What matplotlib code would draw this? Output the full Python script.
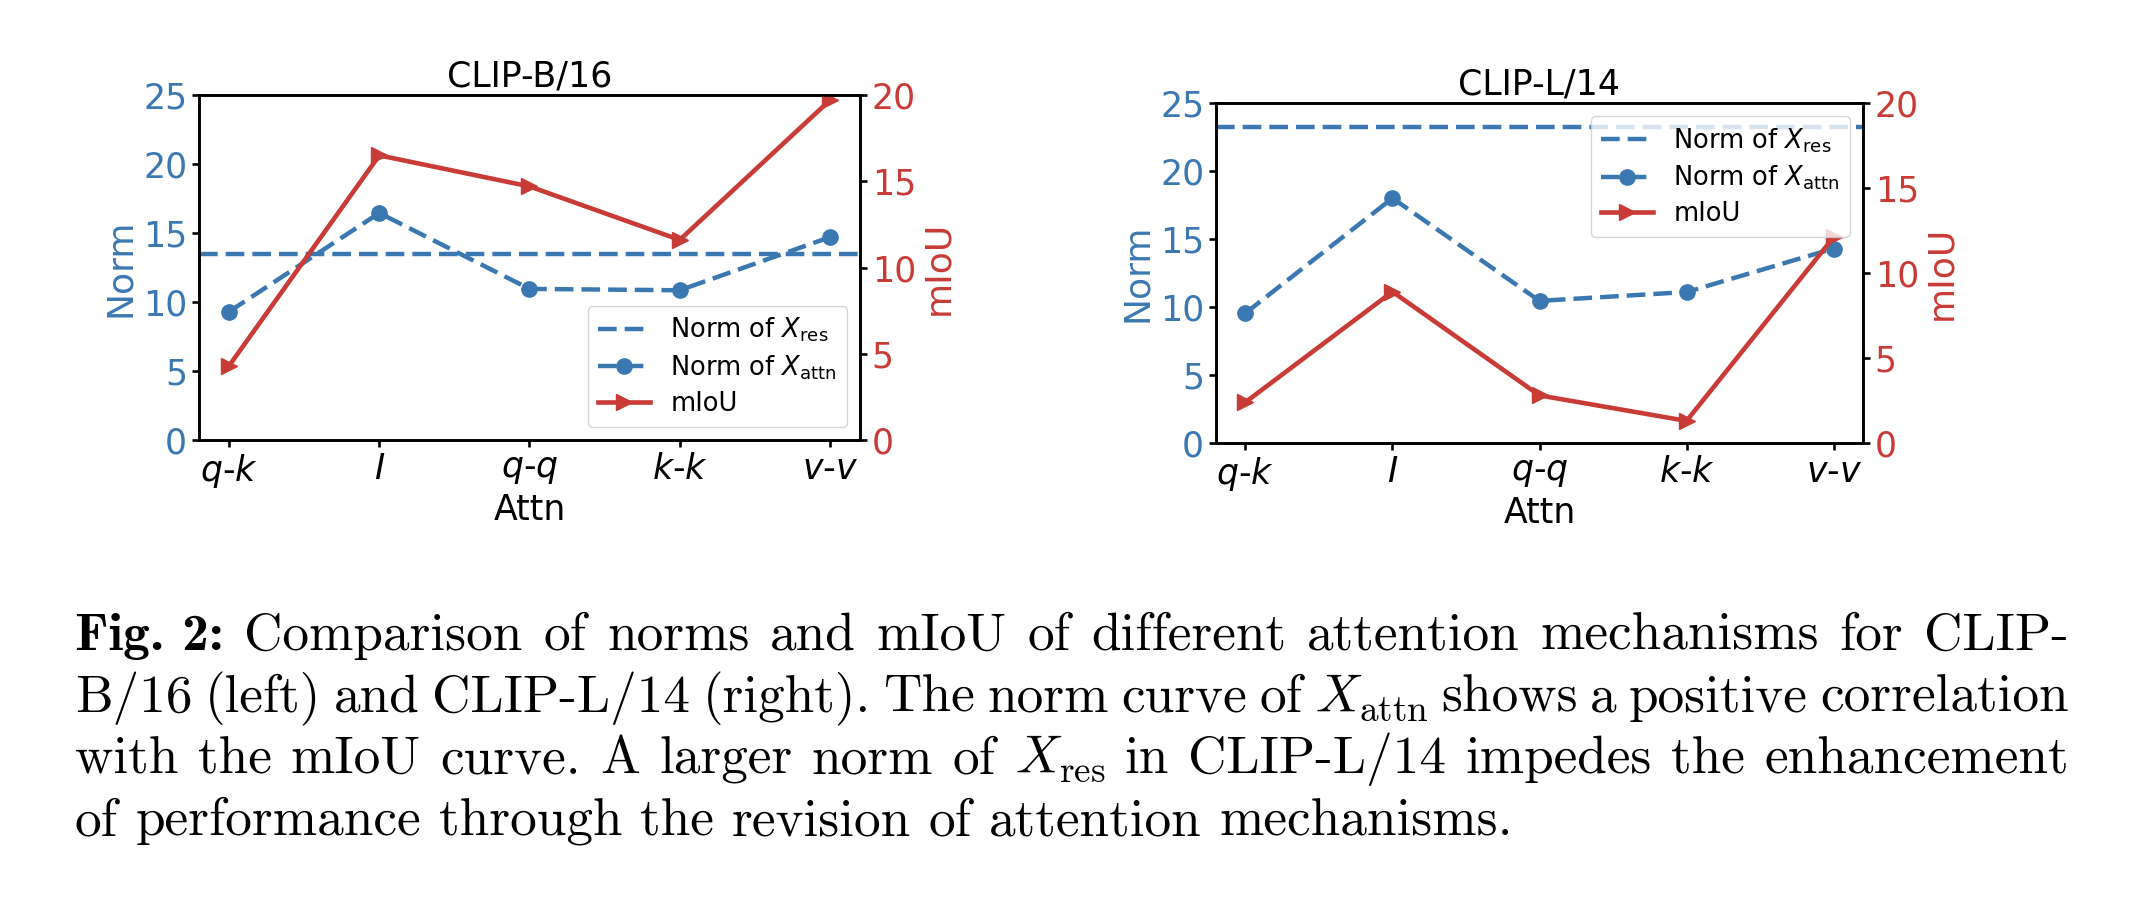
import matplotlib

matplotlib.use("Agg")
import matplotlib.pyplot as plt

# --- data ---
attn_labels = [r"$q$-$k$", r"$I$", r"$q$-$q$", r"$k$-$k$", r"$v$-$v$"]

b16_res_norm = 13.5
b16_attn_norm = [9.3, 16.45, 10.95, 10.85, 14.7]
b16_miou = [4.3, 16.5, 14.7, 11.6, 19.7]

l14_res_norm = 23.25
l14_attn_norm = [9.55, 18.0, 10.45, 11.1, 14.3]
l14_miou = [2.4, 8.9, 2.8, 1.3, 12.1]

caption_lines = [
    ["Fig. 2:", "Comparison", "of", "norms", "and", "mIoU", "of", "different",
     "attention", "mechanisms", "for", "CLIP-"],
    ["B/16", "(left)", "and", "CLIP-L/14", "(right).", "The", "norm", "curve",
     "of", r"$X_{\mathrm{attn}}$", "shows", "a", "positive", "correlation"],
    ["with", "the", "mIoU", "curve.", "A", "larger", "norm", "of",
     r"$X_{\mathrm{res}}$", "in", "CLIP-L/14", "impedes", "the", "enhancement"],
    ["of", "performance", "through", "the", "revision", "of", "attention",
     "mechanisms."],
]

BLUE = "#3b78b2"
RED = "#c83b36"
W, H = 2148, 910

plt.rcParams["axes.linewidth"] = 1.9
plt.rcParams["xtick.major.width"] = 1.9
plt.rcParams["ytick.major.width"] = 1.9
plt.rcParams["xtick.major.size"] = 5
plt.rcParams["ytick.major.size"] = 5

fig = plt.figure(figsize=(W / 100, H / 100), dpi=100)


def px_axes(left, top, right, bottom):
    return [left / W, 1 - bottom / H, (right - left) / W, (bottom - top) / H]


def draw_panel(rect, title, res_norm, attn_norm, miou, legend_loc):
    ax = fig.add_axes(rect)
    x = list(range(len(attn_labels)))
    h_res = ax.axhline(res_norm, color=BLUE, lw=3.2, ls=(0, (4.2, 1.8)),
                       label=r"Norm of $X_{\mathrm{res}}$")
    h_attn, = ax.plot(x, attn_norm, color=BLUE, lw=3.2, ls=(0, (4.2, 1.8)),
                      marker="o", markersize=11,
                      label=r"Norm of $X_{\mathrm{attn}}$")
    ax.set_ylim(0, 25)
    ax.set_yticks([0, 5, 10, 15, 20, 25])
    ax.set_xticks(x)
    ax.set_xticklabels(attn_labels)
    ax.tick_params(axis="both", labelsize=25)
    ax.tick_params(axis="y", labelcolor=BLUE)
    ax.set_ylabel("Norm", color=BLUE, fontsize=26)
    ax.set_xlabel("Attn", fontsize=25, labelpad=2)
    ax.set_title(title, fontsize=25)

    tw = ax.twinx()
    h_miou, = tw.plot(x, miou, color=RED, lw=3.3, marker=">", markersize=12,
                      label="mIoU")
    tw.set_ylim(0, 20)
    tw.set_yticks([0, 5, 10, 15, 20])
    tw.tick_params(axis="y", labelsize=25, labelcolor=RED)
    tw.set_ylabel("mIoU", color=RED, fontsize=26)

    tw.legend(handles=[h_res, h_attn, h_miou], loc=legend_loc, fontsize=18.5,
              labelspacing=0.35, borderpad=0.4)
    return ax


draw_panel(px_axes(199, 95, 860, 440), "CLIP-B/16",
           b16_res_norm, b16_attn_norm, b16_miou, "lower right")
draw_panel(px_axes(1216, 103, 1863, 443), "CLIP-L/14",
           l14_res_norm, l14_attn_norm, l14_miou, "upper right")

# caption, justified like the LaTeX source
cap_fs = 38.3
cap_x0, cap_x1 = 75, 2069
cap_baselines = [650, 712, 773, 835]
renderer = fig.canvas.get_renderer()
space_px = 0.333 * cap_fs * 100 / 72

for i, words in enumerate(caption_lines):
    texts = []
    for w in words:
        fam = "cmb10" if w.startswith("Fig") else "cmr10"
        t = fig.text(0, 1 - cap_baselines[i] / H, w, family=fam,
                     fontsize=cap_fs, math_fontfamily="cm",
                     ha="left", va="baseline")
        texts.append(t)
    widths = [t.get_window_extent(renderer).width for t in texts]
    if i < len(caption_lines) - 1:
        gap = (cap_x1 - cap_x0 - sum(widths)) / (len(words) - 1)
    else:
        gap = space_px
    xpos = cap_x0
    for t, wd in zip(texts, widths):
        t.set_x(xpos / W)
        xpos += wd + gap

fig.savefig("out.png", dpi=100)
